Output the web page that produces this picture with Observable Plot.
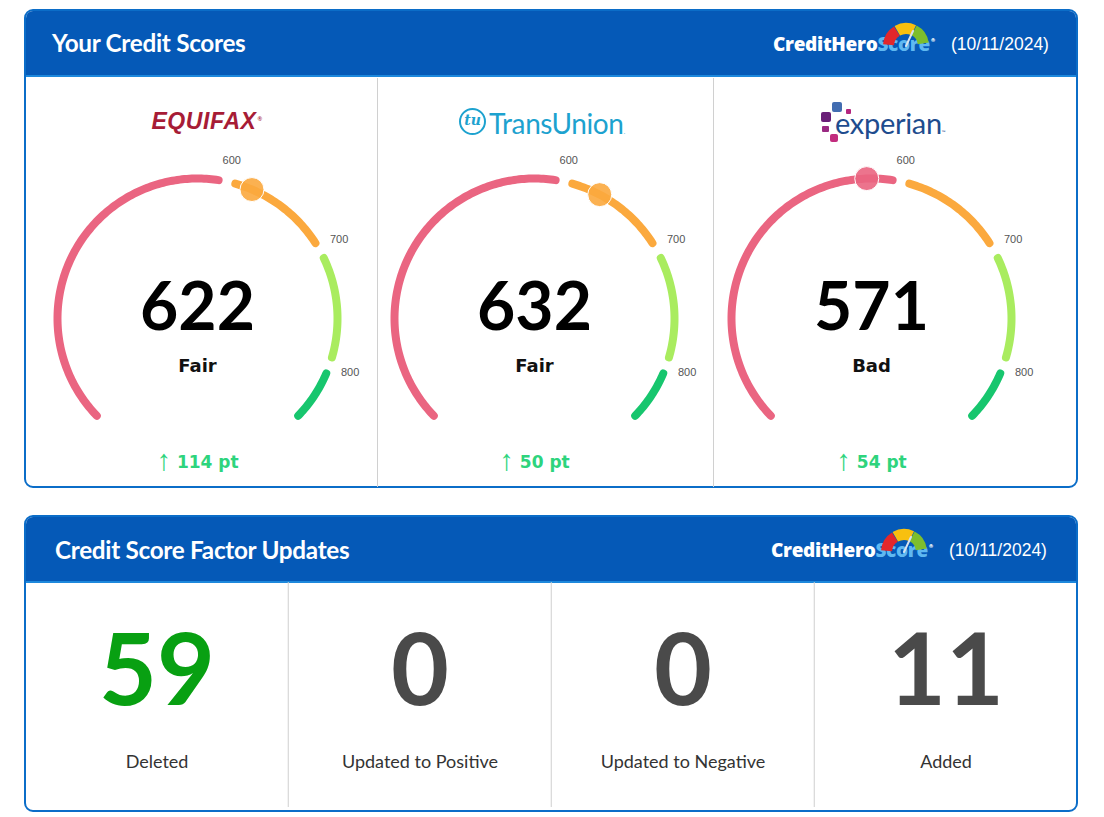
<!DOCTYPE html>
<html><head><meta charset="utf-8">
<script src="https://cdn.jsdelivr.net/npm/d3@7"></script>
<script src="https://cdn.jsdelivr.net/npm/@observablehq/plot@0.6"></script>
<style>
html,body{margin:0;padding:0;background:#fff}
body{position:relative;width:1104px;height:817px;overflow:hidden;font-family:Lato,"Open Sans",sans-serif}
.abs{position:absolute}
.card{position:absolute;left:24px;width:1054px;box-sizing:border-box;border:2px solid #0B6DC8;border-radius:9px;overflow:hidden;background:#fff}
.card .hd{height:64px;background:#0559B7;border-bottom:2px solid #1D88DC}
.title{position:absolute;color:#fff;font:700 24.3px Lato;letter-spacing:-0.3px;line-height:28px;white-space:nowrap}
.brand{position:absolute;font:800 19px "Open Sans";letter-spacing:-0.3px;color:#fff;line-height:24px;white-space:nowrap}
.brand span{color:#5FB8F1}
.brand i{font-style:normal;font-size:5px;position:relative;top:-9px;margin-left:1px}
.date{position:absolute;color:#fff;font:17.5px "Liberation Sans";line-height:20px;white-space:nowrap}
.vdiv{position:absolute;width:1px;background:#d0d0d0}
.ctr{transform:translateX(-50%)}
.logo{position:absolute;white-space:nowrap;line-height:30px}
</style>
</head>
<body>
<div class="card" style="top:9px;height:479px"><div class="hd"></div></div>
<div class="card" style="top:515px;height:297px"><div class="hd"></div></div>

<div class="title" style="left:52px;top:29px">Your Credit Scores</div>
<div class="title" style="left:55px;top:536px">Credit Score Factor Updates</div>

<div class="vdiv" style="left:377px;top:78px;height:409px"></div>
<div class="vdiv" style="left:713px;top:78px;height:409px"></div>

<!-- bureau logos -->
<div class="logo ctr" style="left:207px;top:108px;font:italic 900 23px 'Liberation Sans';color:#A71C36;letter-spacing:0.6px">EQUIFAX<span style="font-size:6px;position:relative;top:-8px;margin-left:1px">®</span></div>

<div class="abs" style="left:459px;top:108px;width:23px;height:23px;border:2.5px solid #1DA2CF;border-radius:50%;color:#1DA2CF;font:italic 600 14px 'DejaVu Serif';text-align:center;line-height:21px">tu</div>
<div class="logo" style="left:489px;top:106px;font:400 28px Lato;color:#1DA2CF;letter-spacing:-0.4px">TransUnion<span style="font-size:8px;color:#7cc8e4">.</span></div>

<div class="abs" style="left:821px;top:112px;width:10px;height:10px;background:#6A1F78;border-radius:2px"></div>
<div class="abs" style="left:832px;top:102px;width:10px;height:10px;background:#426DB1;border-radius:2px"></div>
<div class="abs" style="left:846px;top:109px;width:5px;height:5px;background:#B3267F;border-radius:1px"></div>
<div class="abs" style="left:822px;top:126px;width:7px;height:6px;background:#9A2A82;border-radius:1px"></div>
<div class="abs" style="left:830px;top:134px;width:8px;height:8px;background:#C22C7E;border-radius:2px"></div>
<div class="logo" style="left:835px;top:105px;font:400 29px Lato;color:#1E4C8E;letter-spacing:-0.3px">experian<span style="font-size:5px;vertical-align:baseline">™</span></div>

<script>
// ---------- data ----------
const reportDate = "10/11/2024";
const bureaus = ["Equifax", "TransUnion", "Experian"];
const scores = [622, 632, 571];
const ratings = ["Fair", "Fair", "Bad"];
const changes = [114, 50, 54];
const scoreMin = 300, scoreMax = 850;
const bandNames = ["Bad", "Fair", "Good", "Excellent"];
const bandStarts = [300, 600, 700, 800];
const bandEnds = [600, 700, 800, 850];
const tickValues = [600, 700, 800];

const factorCategories = ["Deleted", "Updated to Positive", "Updated to Negative", "Added"];
const factorCounts = [59, 0, 0, 11];

// ---------- styles ----------
const bandPalette = ["#EA6581", "#FBA93E", "#A9EC5F", "#17C66E"];
const factorPalette = ["#08A012", "#4A4A4A", "#4A4A4A", "#4A4A4A"];
const gaugeCenters = [197, 534, 871];
const changeColor = "#2ED47D";
const changeFont = "bold 17px 'DejaVu Sans'";
const arrowFont = "29px 'Liberation Sans'";

const ctx = document.createElement("canvas").getContext("2d");
const measure = (t, f) => { ctx.font = f; return ctx.measureText(t).width; };

// ---------- header brand + date ----------
function brand(left, cy) {
  const b = document.createElement("div");
  b.className = "brand";
  b.style.left = left + "px"; b.style.top = (cy - 12) + "px";
  b.innerHTML = "CreditHero<span>Score</span><i>®</i>";
  document.body.appendChild(b);
  const d = document.createElement("div");
  d.className = "date";
  d.style.left = (left + 178) + "px"; d.style.top = (cy - 10) + "px";
  d.textContent = "(" + reportDate + ")";
  document.body.appendChild(d);
  const w = 54, h = 30;
  const svg = d3.select(document.body).append("svg").attr("class", "abs")
    .style("left", (left + 106) + "px").style("top", (cy - 27) + "px")
    .attr("width", w).attr("height", h);
  const g = svg.append("g").attr("transform", `translate(${w / 2},${h - 1})`);
  const arc = d3.arc().innerRadius(12).outerRadius(23);
  [["#E2272B", -1.5, -0.55], ["#F8C00F", -0.52, 0.45], ["#7DBE2C", 0.48, 1.42]]
    .forEach(([c, a0, a1]) => g.append("path").attr("d", arc({startAngle: a0, endAngle: a1})).attr("fill", c));
  g.append("line").attr("x1", 0).attr("y1", 0).attr("x2", 7).attr("y2", -15)
    .attr("stroke", "#d9e3ee").attr("stroke-width", 2).attr("stroke-linecap", "round");
}
brand(773, 44);
brand(771, 550);

// ---------- gauges ----------
const R = 140, gapDeg = 3.5;
const angle = d3.scaleLinear([scoreMin, scoreMax], [-134, 134]);
const polar = (s, r) => { const a = angle(s) * Math.PI / 180; return [r * Math.sin(a), r * Math.cos(a)]; };
const bandOf = s => bandNames[Math.max(0, bandStarts.findIndex((b, k) => s >= b && s < bandEnds[k]))];

const arcRows = bandNames.flatMap((band, k) => {
  const a0 = angle(bandStarts[k]) + (k > 0 ? gapDeg : 0);
  const a1 = angle(bandEnds[k]) - (k < bandNames.length - 1 ? gapDeg : 0);
  const n = Math.ceil(a1 - a0);
  return d3.range(n + 1).map(j => {
    const a = (a0 + (a1 - a0) * j / n) * Math.PI / 180;
    return {band, px: R * Math.sin(a), py: R * Math.cos(a)};
  });
});

bureaus.forEach((name, i) => {
  const row = {bureau: name, score: scores[i], rating: ratings[i], change: changes[i]};
  const changeText = row.change + " pt";
  const aw = measure("↑", arrowFont), tw = measure(changeText, changeFont), gap = 6;
  const total = aw + gap + tw;
  const W = 330, H = 340;
  const chart = Plot.plot({
    width: W, height: H, margin: 0,
    x: {domain: [-W / 2, W / 2], axis: null},
    y: {domain: [-162, 178], axis: null},
    color: {domain: bandNames, range: bandPalette},
    style: {background: "transparent", overflow: "visible"},
    marks: [
      Plot.line(arcRows, {x: "px", y: "py", z: "band", stroke: "band", strokeWidth: 8, strokeLinecap: "round", curve: "linear"}),
      Plot.text(tickValues, {x: d => polar(d, 162)[0], y: d => polar(d, 162)[1], text: d => String(d),
        fontSize: 11, fill: "#555", fontFamily: "Liberation Sans"}),
      Plot.dot([row], {x: d => polar(d.score, R)[0], y: d => polar(d.score, R)[1], r: 12,
        fill: d => bandOf(d.score), fillOpacity: 0.9, stroke: "white", strokeWidth: 1}),
      Plot.text([row], {frameAnchor: "middle", dy: -2, text: d => String(d.score), fontSize: 66,
        fontFamily: "Lato", fontWeight: "bold", fill: "#000"}),
      Plot.text([row], {frameAnchor: "middle", dy: 56, text: "rating", fontSize: 18,
        fontFamily: "DejaVu Sans", fontWeight: "bold", fill: "#111"}),
      Plot.text([row], {frameAnchor: "middle", dy: 150, dx: -total / 2 + aw / 2, text: () => "↑", fontSize: 29,
        fontFamily: "Liberation Sans", fill: changeColor}),
      Plot.text([row], {frameAnchor: "middle", dy: 152, dx: -total / 2 + aw + gap, textAnchor: "start", text: () => changeText,
        fontSize: 17, fontFamily: "DejaVu Sans", fontWeight: "bold", fill: changeColor})
    ]
  });
  chart.style.position = "absolute";
  chart.style.left = (gaugeCenters[i] - W / 2) + "px";
  chart.style.top = "140px";
  document.body.appendChild(chart);
});

// ---------- factor updates ----------
const factorRows = factorCategories.map((c, i) => ({category: c, count: factorCounts[i]}));
const FW = 1054, FH = 225;
const bottom = Plot.plot({
  width: FW, height: FH, margin: 0,
  x: {type: "band", domain: factorCategories, range: [0, FW], padding: 0, axis: null},
  color: {domain: factorCategories, range: factorPalette},
  style: {background: "transparent", overflow: "visible"},
  marks: [
    Plot.ruleX(factorCategories.slice(1), {x: d => d, dx: -FW / factorCategories.length / 2, stroke: "#cfcfcf", strokeWidth: 1}),
    Plot.text(factorRows, {x: "category", frameAnchor: "middle", dy: -22, text: d => String(d.count),
      fontSize: 100, fontFamily: "Lato", fontWeight: "bold", fill: "category"}),
    Plot.text(factorRows, {x: "category", frameAnchor: "middle", dy: 67, text: "category",
      fontSize: 18, fontFamily: "Lato", fill: "#333"})
  ]
});
bottom.style.position = "absolute";
bottom.style.left = "24px";
bottom.style.top = "582px";
document.body.appendChild(bottom);
</script>
</body></html>
